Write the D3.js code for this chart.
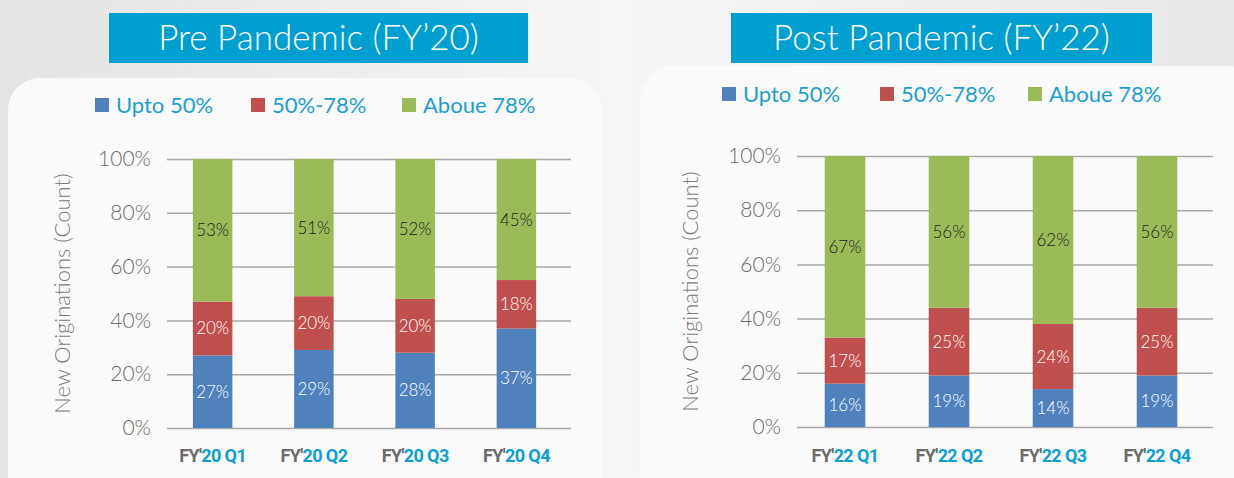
<!DOCTYPE html>
<html>
<head>
<meta charset="utf-8">
<script src="https://cdn.jsdelivr.net/npm/d3@7"></script>
<style>
  html, body { margin: 0; padding: 0; }
  body { width: 1234px; height: 478px; overflow: hidden; background: #efefef; }
  text { font-family: Lato, "Open Sans", sans-serif; }
</style>
</head>
<body>
<div id="chart"></div>
<script>
const categories = ["Upto 50%", "50%-78%", "Above 78%"];
const colors = ["#4f81bd", "#c0504d", "#9bbb59"];
const yTicks = [0, 20, 40, 60, 80, 100];

const preQuarters = ["FY'20 Q1", "FY'20 Q2", "FY'20 Q3", "FY'20 Q4"];
const preUpto50 = [27, 29, 28, 37];
const pre50to78 = [20, 20, 20, 18];
const preAbove78 = [53, 51, 52, 45];

const postQuarters = ["FY'22 Q1", "FY'22 Q2", "FY'22 Q3", "FY'22 Q4"];
const postUpto50 = [16, 19, 14, 19];
const post50to78 = [17, 25, 24, 25];
const postAbove78 = [67, 56, 62, 56];

const width = 1234, height = 478;

const svg = d3.select("#chart")
    .append("svg")
    .attr("width", width)
    .attr("height", height);

const defs = svg.append("defs");
const bg = defs.append("linearGradient").attr("id", "bg")
    .attr("x1", 0).attr("x2", 1).attr("y1", 0).attr("y2", 0);
bg.append("stop").attr("offset", "0%").attr("stop-color", "#e4e4e4");
bg.append("stop").attr("offset", "50%").attr("stop-color", "#f6f6f6");
bg.append("stop").attr("offset", "100%").attr("stop-color", "#e8e8e8");

svg.append("rect").attr("width", width).attr("height", height).attr("fill", "url(#bg)");

function panel(opts) {
    const g = svg.append("g");

    // panel card
    g.append("rect")
        .attr("x", opts.card[0]).attr("y", opts.card[1])
        .attr("width", opts.card[2]).attr("height", opts.card[3])
        .attr("rx", 32)
        .attr("fill", "#fafafa");

    // title box
    g.append("rect")
        .attr("x", opts.title[0]).attr("y", opts.title[1])
        .attr("width", opts.title[2]).attr("height", opts.title[3])
        .attr("fill", "#009fd1");
    g.append("text")
        .attr("x", opts.title[0] + opts.title[2] / 2)
        .attr("y", opts.title[1] + opts.title[3] / 2 + 12)
        .attr("text-anchor", "middle")
        .attr("fill", "white")
        .style("font-size", "35px")
        .style("font-weight", 300)
        .text(opts.titleText);

    const data = opts.quarters.map((q, i) => ({
        q: q,
        "Upto 50%": opts.series[0][i],
        "50%-78%": opts.series[1][i],
        "Above 78%": opts.series[2][i]
    }));
    const stacked = d3.stack().keys(categories)(data);

    const x = d3.scaleBand()
        .domain(opts.quarters)
        .range(opts.band)
        .paddingInner(0.61)
        .paddingOuter(0.305);

    const y = d3.scaleLinear()
        .domain([0, 100])
        .range([opts.y0, opts.y1]);

    // gridlines
    g.append("g")
        .attr("transform", `translate(${opts.x0},0)`)
        .call(d3.axisLeft(y).tickValues(yTicks).tickSize(-(opts.x1 - opts.x0)).tickFormat(d => d + "%"))
        .call(a => a.select(".domain").remove())
        .call(a => a.selectAll("line").attr("stroke", "#a8a8a8").attr("stroke-width", 1.5))
        .call(a => a.selectAll("text")
            .attr("x", -16)
            .attr("fill", "#6b6b6b")
            .style("font-size", "21px")
            .style("font-weight", 300)
            .style("font-family", "Lato, sans-serif"));

    // bars
    g.append("g")
        .selectAll("g")
        .data(stacked)
        .join("g")
        .attr("fill", (d, i) => colors[i])
        .selectAll("rect")
        .data(d => d)
        .join("rect")
        .attr("x", d => x(d.data.q))
        .attr("y", d => y(d[1]))
        .attr("width", x.bandwidth())
        .attr("height", d => y(d[0]) - y(d[1]));

    // value labels
    stacked.forEach((s, si) => {
        g.append("g")
            .selectAll("text")
            .data(s)
            .join("text")
            .attr("x", d => x(d.data.q) + x.bandwidth() / 2)
            .attr("y", d => y((d[0] + d[1]) / 2) + 6)
            .attr("text-anchor", "middle")
            .attr("fill", si === 2 ? "#1e1e1e" : "white")
            .style("font-size", "17px")
            .style("font-weight", 300)
            .text(d => (d[1] - d[0]) + "%");
    });

    // category labels
    const cat = g.append("g")
        .selectAll("text")
        .data(opts.quarters)
        .join("text")
        .attr("x", d => x(d) + x.bandwidth() / 2)
        .attr("y", opts.catY)
        .attr("text-anchor", "middle")
        .style("font-family", "'Liberation Sans Narrow', 'Roboto', sans-serif")
        .style("font-size", "18px")
        .style("letter-spacing", "-0.6px")
        .style("font-weight", 700);
    cat.append("tspan").attr("fill", "#6b6b6b").text(d => d.slice(0, 3));
    cat.append("tspan").attr("fill", "#0aa0d4").text(d => d.slice(3));

    // y-axis title
    g.append("text")
        .attr("transform", `translate(${opts.axisTitleX},${(opts.y0 + opts.y1) / 2}) rotate(-90)`)
        .attr("text-anchor", "middle")
        .attr("fill", "#7a7a7a")
        .style("font-size", "22px")
        .style("font-weight", 300)
        .text("New Originations (Count)");

    // legend
    const leg = g.append("g")
        .selectAll("g")
        .data(categories)
        .join("g")
        .attr("transform", (d, i) => `translate(${opts.legendX[i]},${opts.legendY})`);
    leg.append("rect")
        .attr("x", 0).attr("y", -14)
        .attr("width", 14).attr("height", 14)
        .attr("fill", (d, i) => colors[i]);
    leg.append("text")
        .attr("x", 21).attr("y", 1)
        .attr("fill", "#1a9fd3")
        .style("font-size", "22px")
        .style("font-weight", 400)
        .text(d => d.replace("Above", "Aboue"));
}

panel({
    card: [8, 78, 594, 440],
    title: [109, 13, 419, 50],
    titleText: "Pre Pandemic (FY\u201920)",
    quarters: preQuarters,
    series: [preUpto50, pre50to78, preAbove78],
    x0: 167, x1: 571, band: [162, 567], y0: 428, y1: 159,
    catY: 462,
    axisTitleX: 70,
    legendX: [95, 251, 402],
    legendY: 112
});

panel({
    card: [640, 66, 620, 450],
    title: [731, 13, 421, 50],
    titleText: "Post Pandemic (FY\u201922)",
    quarters: postQuarters,
    series: [postUpto50, post50to78, postAbove78],
    x0: 797, x1: 1213, band: [793, 1209], y0: 427, y1: 156,
    catY: 462,
    axisTitleX: 698,
    legendX: [722, 880, 1028],
    legendY: 101
});
</script>
</body>
</html>
